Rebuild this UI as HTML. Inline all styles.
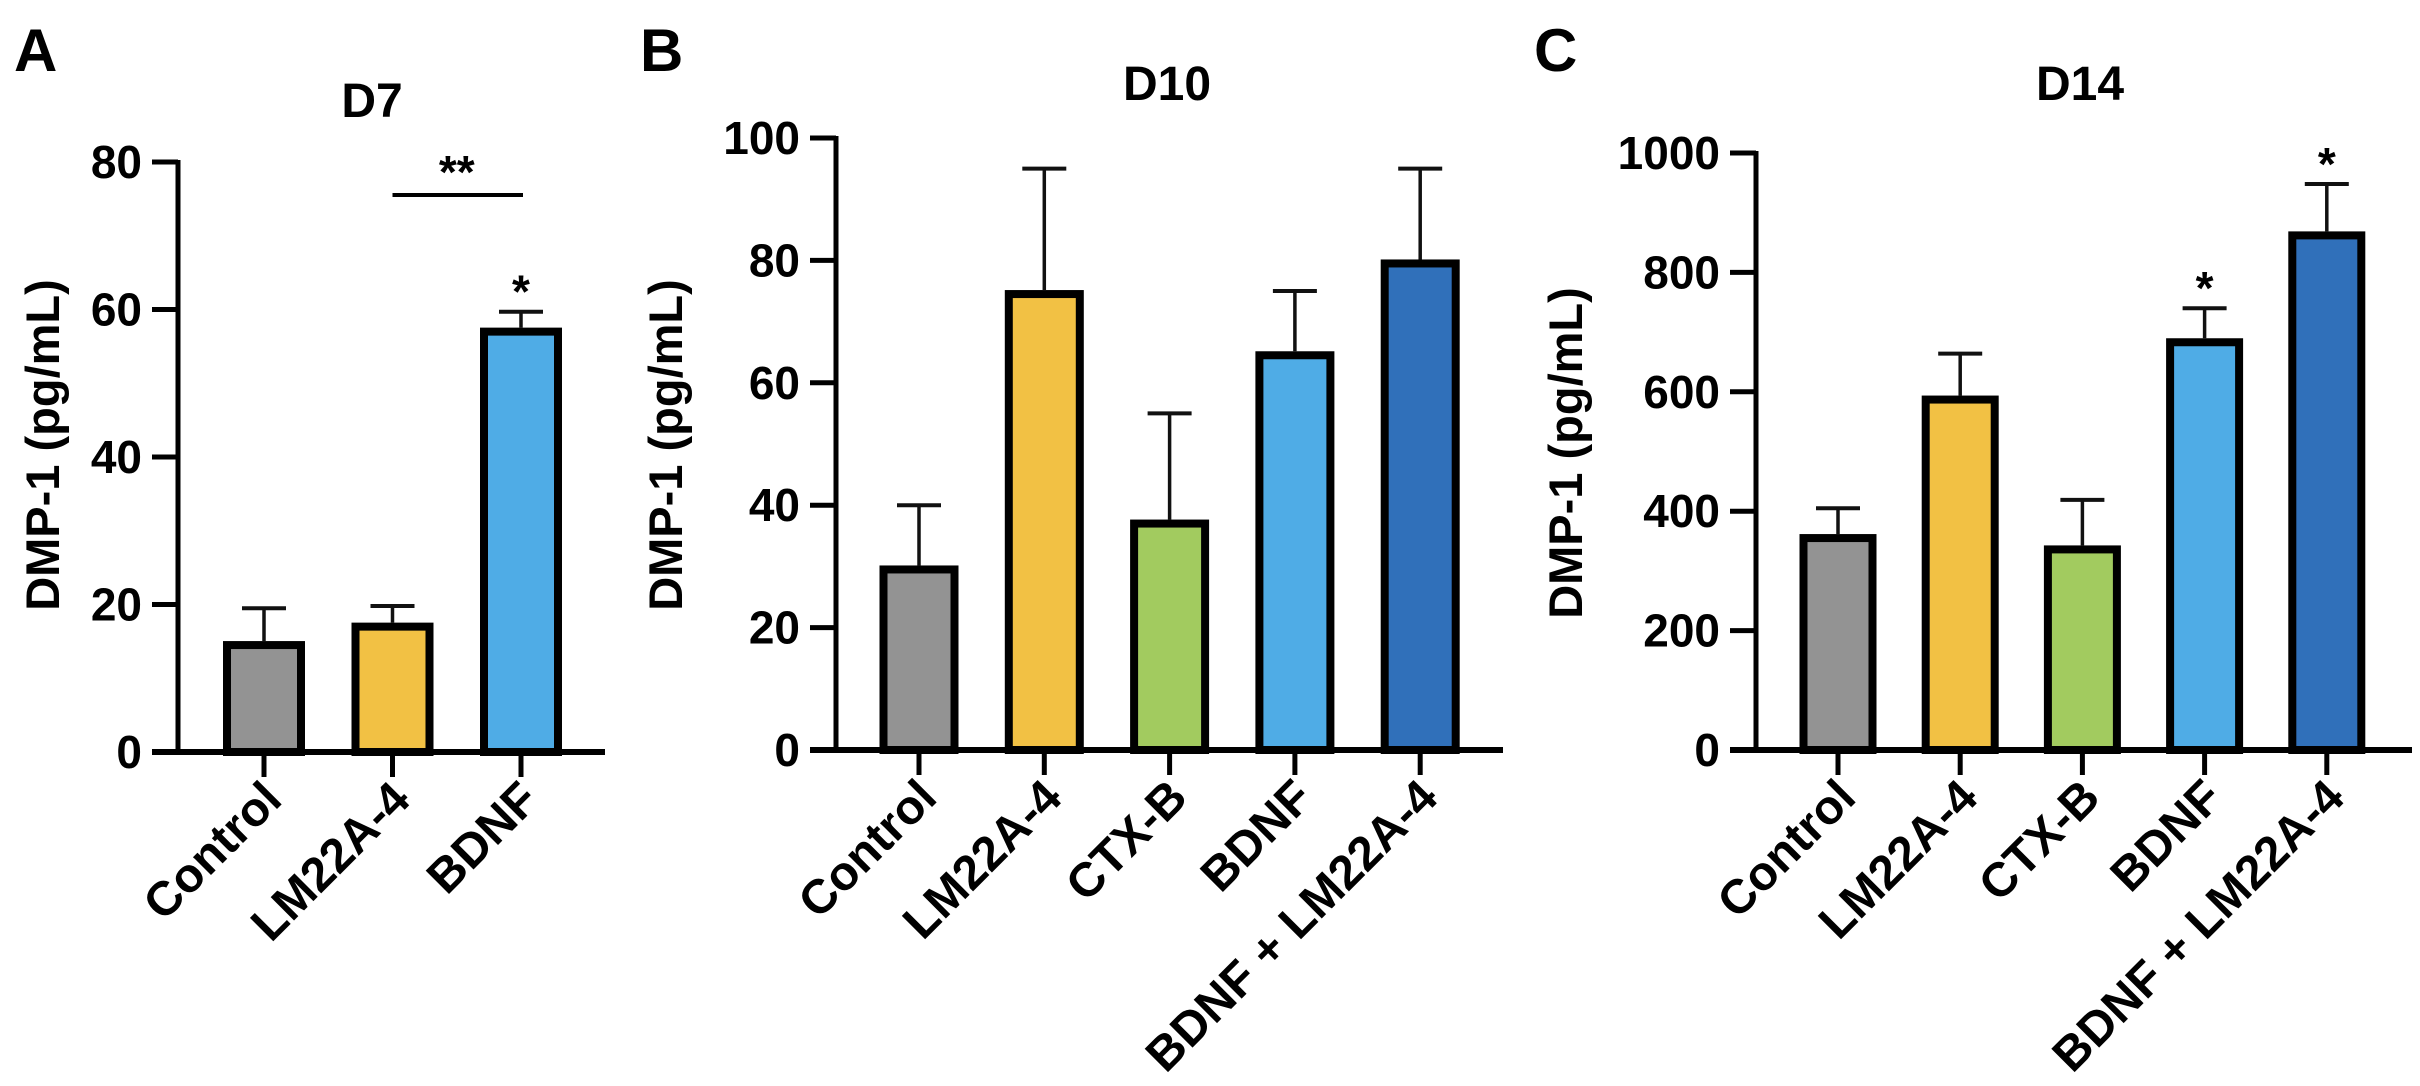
<!DOCTYPE html>
<html><head><meta charset="utf-8"><style>
html,body{margin:0;padding:0;background:#fff;}
svg{display:block;font-family:"Liberation Sans",Arial,sans-serif;font-weight:bold;}
</style></head><body>
<svg id="fig" width="2420" height="1086" viewBox="0 0 2420 1086" xmlns="http://www.w3.org/2000/svg"></svg>
<script>
const catsA = ["Control","LM22A-4","BDNF"];
const valsA = [14.5, 17, 57];
const errA = [19.5, 19.8, 59.7];
const ticksA = [0,20,40,60,80];
const catsB = ["Control","LM22A-4","CTX-B","BDNF","BDNF + LM22A-4"];
const valsB = [29.5, 74.5, 37, 64.5, 79.5];
const errB = [40, 95, 55, 75, 95];
const ticksB = [0,20,40,60,80,100];
const catsC = ["Control","LM22A-4","CTX-B","BDNF","BDNF + LM22A-4"];
const valsC = [355, 587, 336, 683, 862];
const errC = [405, 664, 419, 740, 948];
const ticksC = [0,200,400,600,800,1000];
const colors = {"Control":"#939393","LM22A-4":"#F2C144","CTX-B":"#A2CB5F","BDNF":"#4FACE6","BDNF + LM22A-4":"#3070BA"};

const NS="http://www.w3.org/2000/svg";
const svg=document.getElementById('fig');
function mk(tag,attrs,parent){const e=document.createElementNS(NS,tag);for(const k in attrs)e.setAttribute(k,attrs[k]);(parent||svg).appendChild(e);return e;}

function panel(p){
  const g=mk('g',{});
  
  
  const y=v=>p.y0-(v/p.max)*(p.y0-p.yTop);
  const x=i=>p.x0+i*p.step;
  const L=mk('text',{x:p.letterX,y:71,'font-size':60},g);L.textContent=p.letter;
  
  
  const T=mk('text',{x:p.titleX,y:p.titleY,'font-size':48,'text-anchor':'middle'},g);T.textContent=p.title;
  
  
  const YT=mk('text',{x:0,y:0,'font-size':47,'text-anchor':'middle',transform:`translate(${p.ytX},${p.ytY}) rotate(-90)`},g);YT.textContent="DMP-1 (pg/mL)";
  
  
  p.cats.forEach((c,i)=>{
    const cx=x(i);
    const top=y(p.vals[i]);
    const r=mk('rect',{x:cx-p.bw/2,y:top,width:p.bw,height:p.y0-top,fill:colors[c],stroke:'#000','stroke-width':8},g);
    
    
    const et=y(p.errs[i]);
    const e1=mk('line',{x1:cx,x2:cx,y1:top-4,y2:et,stroke:'#111','stroke-width':3.5},g);
    
    
    const e2=mk('line',{x1:cx-22,x2:cx+22,y1:et,y2:et,stroke:'#111','stroke-width':4},g);
    
    
    const tk=mk('line',{x1:cx,x2:cx,y1:p.y0,y2:p.y0+25,stroke:'#000','stroke-width':5},g);
    
    
    const lx=cx+20, ly=p.y0+50;
    const lb=mk('text',{x:lx,y:ly,'font-size':48,'text-anchor':'end',transform:`rotate(-45 ${lx} ${ly})`},g);
    lb.textContent=c;
    
    
  });
  const ya=mk('line',{x1:p.axX,x2:p.axX,y1:y(p.max)-2,y2:p.y0+2,stroke:'#000','stroke-width':5},g);
  
  
  const xa=mk('line',{x1:p.axX-26,x2:p.xEnd,y1:p.y0,y2:p.y0,stroke:'#000','stroke-width':6},g);
  
  
  p.ticks.forEach(t=>{
    const ty=y(t);
    const tl=mk('line',{x1:p.axX-26,x2:p.axX,y1:ty,y2:ty,stroke:'#000','stroke-width':5},g);
    
    
    const tt=mk('text',{x:p.axX-36,y:ty+16,'font-size':46,'text-anchor':'end'},g);
    tt.textContent=t;
    
    
  });
  return {x,y,g};
}

const A=panel({id:'d7',letter:'A',letterX:14,title:'D7',titleX:372,titleY:117,ytX:59,ytY:445,
  cats:catsA,vals:valsA,errs:errA,ticks:ticksA,max:80,y0:752,yTop:162,x0:264,step:128.5,bw:74,axX:178,xEnd:605});
const B=panel({id:'d10',letter:'B',letterX:640,title:'D10',titleX:1167,titleY:100,ytX:682,ytY:445,
  cats:catsB,vals:valsB,errs:errB,ticks:ticksB,max:100,y0:750,yTop:138,x0:919,step:125.3,bw:71,axX:836,xEnd:1503});
const C=panel({id:'d14',letter:'C',letterX:1534,title:'D14',titleX:2080,titleY:100,ytX:1582,ytY:453,
  cats:catsC,vals:valsC,errs:errC,ticks:ticksC,max:1000,y0:750,yTop:153,x0:1838,step:122.2,bw:69,axX:1756,xEnd:2412});

function star(txt,cx,cy,g,name){const s=mk('text',{x:cx,y:cy+18,'font-size':46,'text-anchor':'middle'},g);s.textContent=txt;
  
  }
star('*',A.x(2),A.y(errA[2])-22,A.g,'d7-bdnf-significance');
const sb=mk('line',{x1:A.x(1),x2:A.x(2)+2,y1:195,y2:195,stroke:'#000','stroke-width':4},A.g);


star('**',(A.x(1)+A.x(2))/2,170,A.g,'d7-comparison-significance');
star('*',C.x(3),C.y(errC[3])-22,C.g,'d14-bdnf-significance');
star('*',C.x(4),C.y(errC[4])-22,C.g,'d14-combo-significance');
</script>
</body></html>
